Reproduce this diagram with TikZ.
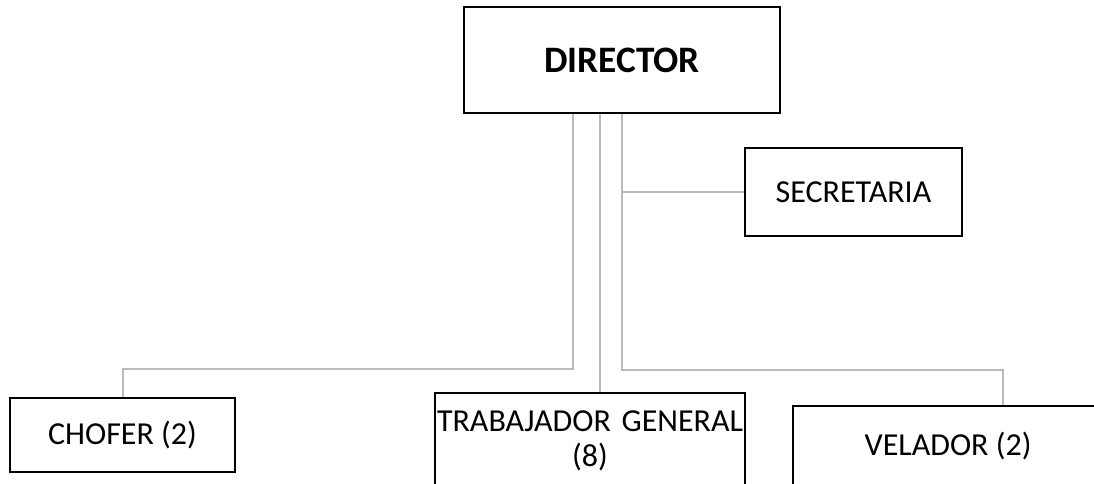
\documentclass[tikz,border=0pt]{standalone}
\usepackage{fontspec}
\setmainfont{Carlito}
\usetikzlibrary{calc}
\tikzset{
  box/.style={draw=black, line width=1.6pt, fill=white, inner sep=0pt, align=center, font=\fontsize{24}{26}\selectfont},
  link/.style={draw=black!27, line width=1.5pt}
}
\begin{document}
\begin{tikzpicture}[x=0.75pt,y=-0.75pt]
\useasboundingbox (0,0) rectangle (1094,483);
\clip (0,0) rectangle (1094,483);

\node[box, minimum width=237pt, minimum height=79.5pt, font=\fontsize{28}{32}\selectfont\bfseries] (dir) at (622,60) {DIRECTOR};
\node[box, minimum width=162.75pt, minimum height=66pt] (sec) at (853.5,192) {SECRETARIA};
\node[box, minimum width=168.75pt, minimum height=55.5pt] (chof) at (122.5,435) {CHOFER (2)};
\node[box, minimum width=232.5pt, minimum height=71.25pt, text width=232pt] (trab) at (590,440.5) {TRABAJADOR GENERAL\\(8)};
\node[box, minimum width=232.5pt, minimum height=60pt, anchor=north west] (vel) at (792,405) {VELADOR (2)};

\coordinate (a) at ($(dir.south)+(-49,0)$);
\coordinate (b) at ($(dir.south)+(-22,0)$);
\coordinate (c) at ($(vel.north west)+(211,0)$);
\draw[link] (a) |- ($(chof.north)+(0,-28)$) -- (chof.north);
\draw[link] (b) -- (b |- trab.north);
\draw[link] (dir.south) |- (sec.west);
\draw[link] (dir.south) |- ($(c)+(0,-35)$) -- (c);
\end{tikzpicture}
\end{document}
